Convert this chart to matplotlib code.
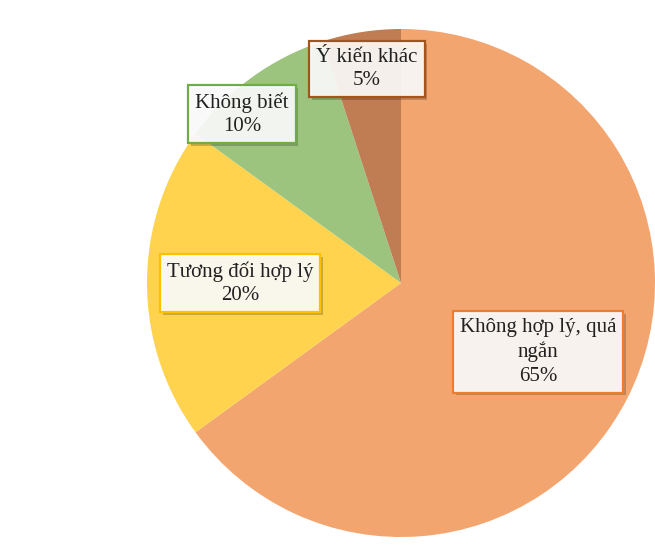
import matplotlib.pyplot as plt
import matplotlib.patheffects as pe

plt.rcParams['font.family'] = ['Liberation Serif', 'DejaVu Serif']

labels = ['Không hợp lý, quá\nngắn', 'Tương đối hợp lý', 'Không biết', 'Ý kiến khác']
shares = [65, 20, 10, 5]
fills = ['#F2A56F', '#FFD34E', '#9DC47F', '#C07C52']
borders = ['#ED7D31', '#FFC000', '#70AD47', '#A5541C']
# label box centres in pixel coordinates (y measured from bottom)
label_xy = [(538, 205), (240, 274), (242, 443), (367, 488)]

fig = plt.figure(figsize=(6.55, 5.57), dpi=100)
ax = fig.add_axes([0, 0, 1, 1])

ax.pie(shares, colors=fills, startangle=90, counterclock=False,
       center=(401, 274), radius=254,
       wedgeprops=dict(linewidth=0))
ax.set_xlim(0, 655)
ax.set_ylim(0, 557)
ax.set_aspect('auto')
ax.axis('off')

for lab, val, ec, (x, y) in zip(labels, shares, borders, label_xy):
    t = ax.text(x, y, f'{lab}\n{val}%', ha='center', va='center',
                fontsize=15, color='#222222', linespacing=1.3,
                bbox=dict(boxstyle='square,pad=0.33', facecolor=(1, 1, 1, 0.9),
                          edgecolor=ec, linewidth=1.6))
    t.get_bbox_patch().set_path_effects([
        pe.SimplePatchShadow(offset=(2, -2), shadow_rgbFace='#000000', alpha=0.2),
        pe.Normal()])

fig.savefig('out.png', dpi=100)
